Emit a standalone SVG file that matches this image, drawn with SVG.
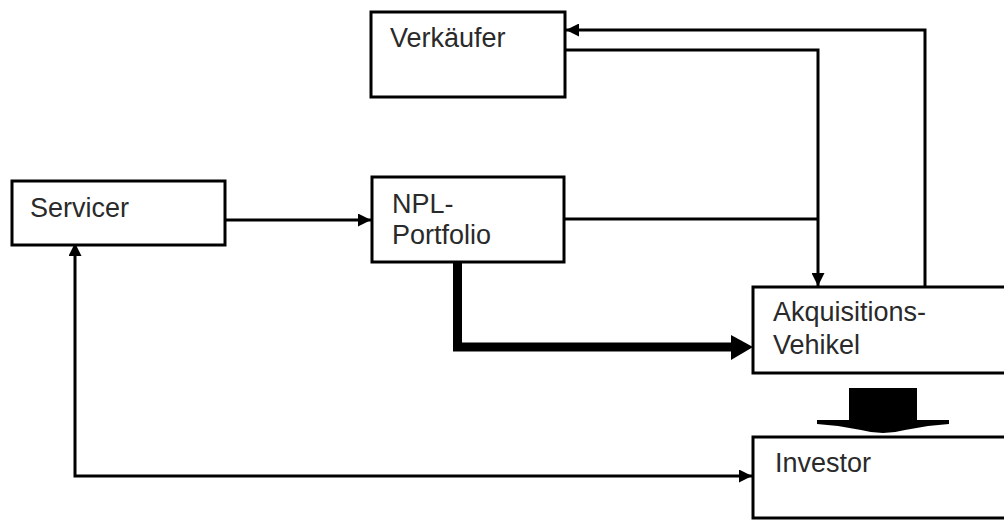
<svg xmlns="http://www.w3.org/2000/svg" width="1004" height="520" viewBox="0 0 1004 520">
<defs>
<style>
.box{fill:#fff;stroke:#000;stroke-width:3}
.lbl{font-family:"Liberation Sans",Arial,sans-serif;font-size:27px;fill:#2a2a2a}
.ln{fill:none;stroke:#000;stroke-width:3}
</style>
<marker id="ah" viewBox="0 0 10 10" refX="10" refY="5" markerUnits="userSpaceOnUse" markerWidth="13" markerHeight="13" orient="auto-start-reverse">
<path d="M0,0 L10,5 L0,10 z" fill="#000"/>
</marker>
</defs>
<rect width="1004" height="520" fill="#fff"/>
<g id="connectors">
<polyline class="ln" points="925,287 925,30 566,30" marker-end="url(#ah)"/>
<polyline class="ln" points="565,50 818,50 818,286" marker-end="url(#ah)"/>
<line class="ln" x1="565" y1="219" x2="818" y2="219"/>
<line class="ln" x1="226" y1="220" x2="371" y2="220" marker-end="url(#ah)"/>
<polyline class="ln" points="752,476 75,476 75,243" marker-start="url(#ah)" marker-end="url(#ah)" stroke-width="2.5"/>
<polyline fill="none" stroke="#000" stroke-width="9" points="457.5,263 457.5,347 735,347"/>
<polygon points="731,335 753,347 731,360" fill="#000"/>
<rect x="849" y="388" width="68" height="34" fill="#000"/>
<path d="M817,420 L949,420 L949,424 L928,426 L905,430 Q883,436 861,430 L838,426 L817,424 Z" fill="#000"/>
</g>
<g id="verkaeufer">
<rect class="box" x="371" y="12" width="194" height="85"/>
<text class="lbl" x="390" y="47">Verkäufer</text>
</g>
<g id="servicer">
<rect class="box" x="12" y="181" width="213" height="64"/>
<text class="lbl" x="30" y="217">Servicer</text>
</g>
<g id="npl">
<rect class="box" x="372" y="177" width="192" height="85"/>
<text class="lbl" x="392" y="213">NPL-</text>
<text class="lbl" x="392" y="244">Portfolio</text>
</g>
<g id="akquisition">
<rect class="box" x="753" y="287" width="260" height="86"/>
<text class="lbl" x="773" y="321">Akquisitions-</text>
<text class="lbl" x="773" y="354">Vehikel</text>
</g>
<g id="investor">
<rect class="box" x="753" y="437" width="260" height="81"/>
<text class="lbl" x="775" y="472">Investor</text>
</g>
</svg>
